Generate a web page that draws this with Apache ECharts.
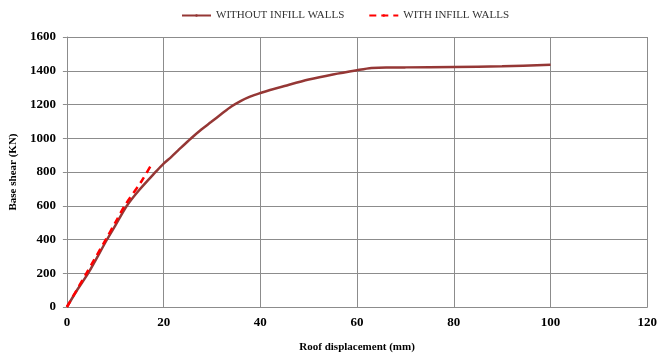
<!DOCTYPE html>
<html>
<head>
<meta charset="utf-8">
<script src="https://cdn.jsdelivr.net/npm/echarts@6/dist/echarts.min.js"></script>
<style>
  html, body { margin: 0; padding: 0; background: #fff; }
  #chart { width: 660px; height: 358px; }
</style>
</head>
<body>
<div id="chart"></div>
<script>
// Pushover curves: roof displacement (mm) vs base shear (kN)
const seriesNames = ['WITHOUT INFILL WALLS', 'WITH INFILL WALLS'];

const withoutInfill = [
  [0, 0], [2, 95], [4.5, 205], [8.3, 400], [10, 482], [12.4, 600],
  [15, 695], [18.5, 805], [20, 850], [21.6, 890], [23, 928], [25.7, 1000],
  [27.8, 1052], [29.8, 1096], [32, 1145], [34, 1188], [36, 1222],
  [38, 1248], [40, 1268], [42, 1286], [45, 1310], [50, 1348],
  [55, 1378], [60, 1403], [63, 1416], [66, 1420], [70, 1420], [80, 1422],
  [90, 1426], [100, 1436]
];

const withInfill = [
  [0, 0], [4, 198], [8, 398], [10, 500], [12, 602], [15.5, 748], [17.7, 855]
];

const xTicks = { min: 0, max: 120, step: 20 };
const yTicks = { min: 0, max: 1600, step: 200 };

const serif = '"Liberation Serif", "DejaVu Serif", serif';
const gridColor = '#8c8c8c';

const chart = echarts.init(document.getElementById('chart'));
chart.setOption({
  animation: false,
  backgroundColor: '#ffffff',
  legend: {
    top: 5,
    left: 176,
    itemWidth: 29,
    itemHeight: 3,
    itemGap: 24,
    textStyle: { fontFamily: serif, fontSize: 11, color: '#333333' },
    data: seriesNames
  },
  grid: { left: 64.5, right: 10, top: 37, bottom: 46, containLabel: false },
  xAxis: {
    type: 'value',
    min: xTicks.min, max: xTicks.max, interval: xTicks.step,
    name: 'Roof displacement (mm)',
    nameLocation: 'middle',
    nameGap: 35,
    nameTextStyle: { fontFamily: serif, fontSize: 11, fontWeight: 'bold', color: '#000' },
    axisLine: { lineStyle: { color: gridColor, width: 1 } },
    axisTick: { show: false },
    axisLabel: { fontFamily: serif, fontSize: 13, fontWeight: 'bold', color: '#000', margin: 9 },
    splitLine: { show: true, lineStyle: { color: gridColor, width: 1 } }
  },
  yAxis: {
    type: 'value',
    min: yTicks.min, max: yTicks.max, interval: yTicks.step,
    name: 'Base shear (KN)',
    nameLocation: 'middle',
    nameGap: 32,
    nameTextStyle: { fontFamily: serif, fontSize: 11, fontWeight: 'bold', color: '#000' },
    axisLine: { show: true, lineStyle: { color: gridColor, width: 1 } },
    axisTick: { show: true, length: 4, lineStyle: { color: gridColor } },
    axisLabel: {
      fontFamily: serif, fontSize: 13, fontWeight: 'bold', color: '#000', margin: 11,
      formatter: (v) => String(v)
    },
    splitLine: { show: true, lineStyle: { color: gridColor, width: 1 } }
  },
  series: [
    {
      name: seriesNames[0],
      type: 'line',
      data: withoutInfill,
      smooth: 0.3,
      symbol: 'none',
      lineStyle: { color: '#953735', width: 2.5 },
      itemStyle: { color: '#953735' }
    },
    {
      name: seriesNames[1],
      type: 'line',
      data: withInfill,
      smooth: 0.3,
      symbol: 'none',
      lineStyle: { color: '#ff0000', width: 2.5, type: [7, 5] },
      itemStyle: { color: '#ff0000' }
    }
  ]
});
</script>
</body>
</html>
